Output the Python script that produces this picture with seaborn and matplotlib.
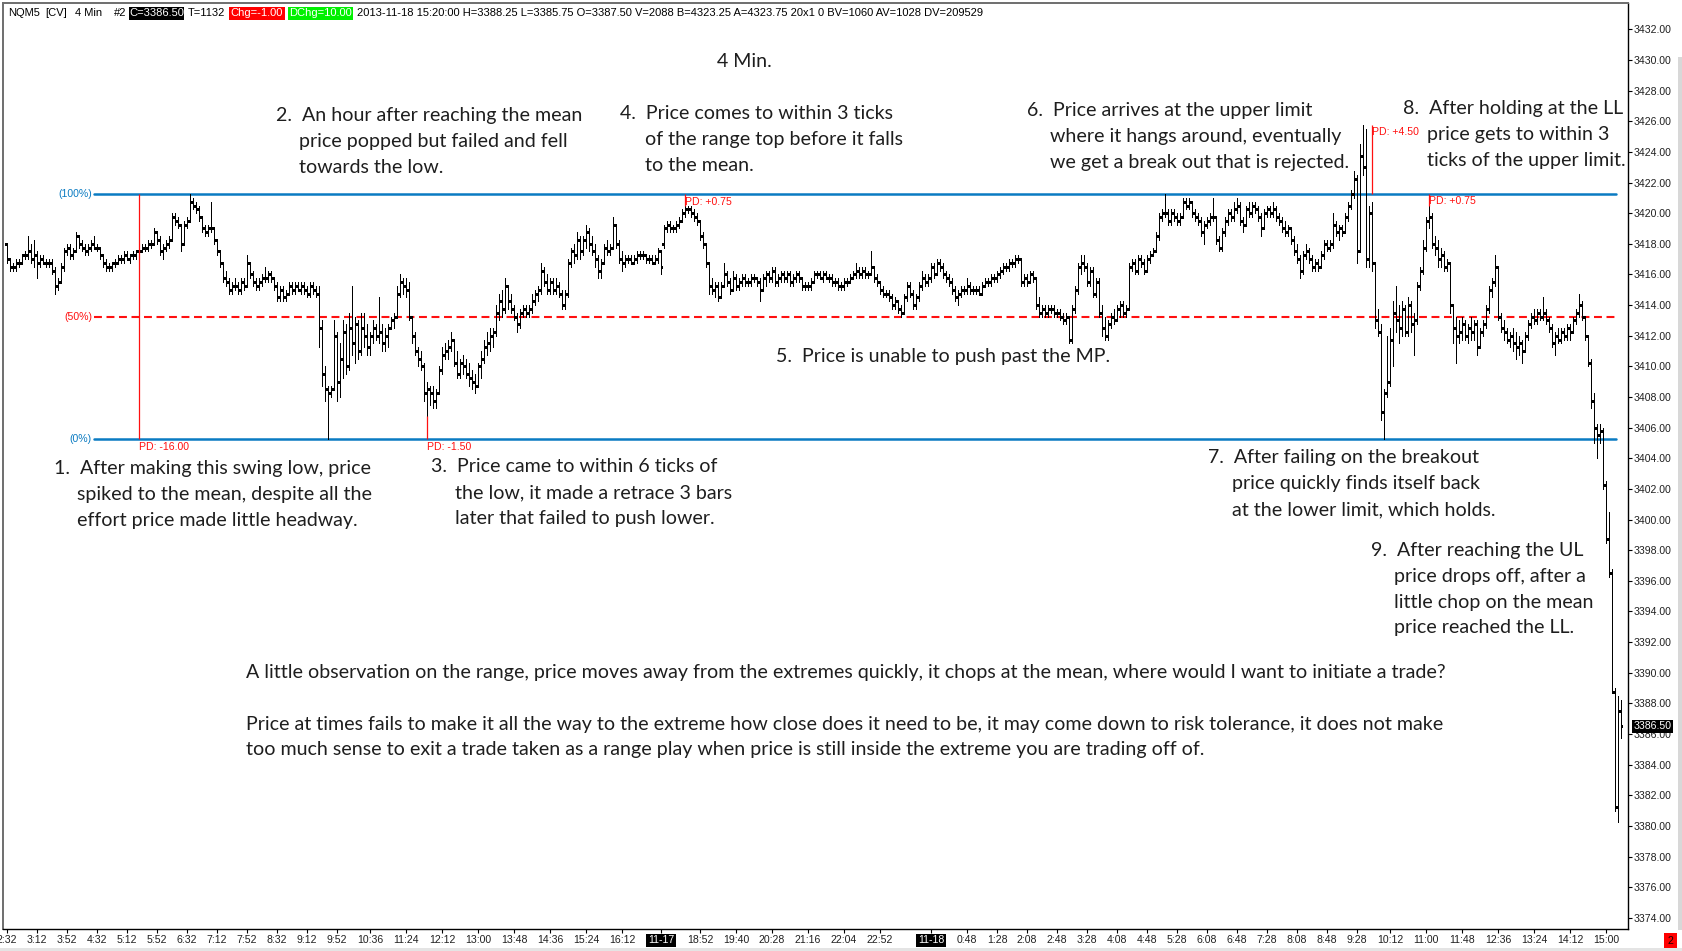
import numpy as np
import pandas as pd
import matplotlib
matplotlib.use("Agg")
import matplotlib.pyplot as plt
from matplotlib.patches import Rectangle
from matplotlib.transforms import blended_transform_factory
import seaborn as sns

# ---------------- data (price offsets from BASE, one 4-minute bar each) ----------------
BASE = 3400.0

OPEN = [
 18.0, 17.0, 16.5, 16.5, 16.75, 16.75, 17.25, 17.25, 17.5, 17.0,
 17.25, 16.75, 17.0, 16.75, 16.75, 16.75, 16.25, 15.25, 15.5, 16.5,
 17.5, 17.75, 17.25, 17.5, 18.5, 18.0, 17.75, 17.5, 17.75, 18.0,
 17.75, 17.75, 17.25, 16.75, 16.5, 16.5, 16.75, 16.75, 17.0, 17.0,
 17.25, 17.0, 17.25, 17.25, 17.5, 17.5, 17.75, 17.75, 18.0, 18.0,
 18.75, 18.25, 17.5, 17.75, 18.0, 18.25, 19.75, 19.5, 19.25, 18.0,
 19.25, 19.5, 20.75, 20.5, 20.25, 19.75, 19.0, 18.75, 19.0, 19.0,
 18.25, 17.5, 16.75, 15.75, 15.5, 15.0, 15.25, 15.25, 15.0, 15.5,
 15.25, 16.75, 16.0, 15.5, 15.25, 15.5, 15.75, 15.75, 16.0, 15.75,
 15.25, 14.5, 15.0, 14.5, 14.75, 15.25, 15.0, 15.25, 15.0, 15.25,
 15.0, 14.75, 15.25, 15.0, 14.75, 12.5, 9.5, 8.5, 8.25, 8.5,
 12.0, 9.0, 10.5, 12.25, 10.0, 12.5, 11.5, 12.75, 11.0, 12.5,
 12.0, 11.25, 12.0, 12.5, 12.0, 12.25, 11.5, 12.0, 12.5, 13.0,
 13.25, 14.75, 15.5, 15.25, 15.0, 13.25, 12.0, 11.0, 10.5, 10.0,
 8.25, 8.5, 8.25, 7.75, 8.25, 9.75, 10.75, 11.0, 11.25, 11.75,
 10.25, 9.5, 10.25, 10.0, 9.5, 9.25, 9.0, 8.75, 10.0, 10.5,
 11.25, 11.5, 12.0, 12.25, 13.5, 14.25, 13.75, 15.25, 14.25, 13.75,
 13.25, 12.75, 13.5, 13.75, 13.5, 13.75, 14.25, 14.75, 15.0, 16.25,
 15.5, 15.0, 15.5, 15.0, 15.25, 14.75, 14.0, 14.75, 16.75, 17.5,
 17.25, 18.25, 17.5, 18.25, 18.75, 18.0, 17.5, 17.0, 16.25, 16.75,
 17.75, 17.5, 17.75, 19.25, 18.0, 17.0, 16.75, 17.0, 17.0, 16.75,
 17.0, 17.25, 17.25, 17.25, 17.0, 17.0, 16.75, 17.0, 17.5, 18.0,
 19.0, 19.25, 19.0, 19.0, 19.25, 19.5, 20.0, 20.25, 20.25, 20.0,
 19.75, 19.5, 18.5, 18.0, 16.75, 15.25, 15.0, 15.25, 14.5, 15.25,
 16.0, 15.5, 15.0, 15.75, 15.25, 15.5, 15.75, 15.5, 15.5, 15.75,
 15.75, 15.5, 15.0, 15.75, 16.0, 15.75, 16.25, 15.5, 15.75, 16.0,
 15.75, 16.0, 15.5, 15.75, 16.0, 15.75, 15.25, 15.25, 15.25, 15.5,
 16.0, 16.0, 15.75, 16.0, 15.75, 15.75, 15.5, 15.5, 15.25, 15.25,
 15.5, 15.5, 15.75, 16.0, 16.25, 16.0, 16.25, 16.0, 16.0, 16.5,
 15.75, 15.5, 15.0, 14.75, 14.75, 14.5, 14.0, 14.25, 13.75, 13.5,
 14.5, 15.25, 14.75, 14.0, 14.5, 15.25, 15.75, 15.5, 15.75, 16.5,
 16.0, 16.75, 16.5, 16.0, 15.75, 15.5, 15.0, 14.5, 14.75, 15.0,
 15.0, 15.25, 15.0, 15.0, 15.0, 14.75, 15.25, 15.5, 15.5, 15.75,
 15.75, 16.0, 16.25, 16.5, 16.5, 16.75, 16.75, 17.0, 17.0, 15.5,
 15.75, 15.5, 16.0, 15.75, 14.0, 13.5, 13.75, 13.5, 13.75, 13.75,
 13.5, 13.5, 13.25, 13.0, 13.25, 11.75, 13.75, 15.0, 16.5, 16.75,
 16.5, 15.5, 16.25, 14.75, 15.5, 13.5, 12.5, 12.0, 12.75, 13.25,
 13.0, 13.75, 14.0, 13.5, 13.75, 16.5, 16.75, 16.25, 17.0, 16.75,
 16.25, 17.0, 17.25, 17.5, 18.5, 19.75, 20.0, 20.0, 19.5, 20.0,
 19.75, 19.5, 19.75, 20.75, 20.5, 20.75, 20.0, 19.75, 19.5, 18.75,
 19.25, 19.5, 19.75, 19.75, 18.25, 17.75, 18.75, 19.5, 20.0, 19.75,
 20.25, 20.5, 19.5, 19.25, 20.25, 20.0, 20.5, 20.25, 19.75, 19.0,
 20.0, 20.25, 20.0, 20.25, 19.75, 19.5, 19.0, 18.75, 19.0, 18.25,
 17.5, 17.0, 16.25, 17.25, 17.5, 17.0, 16.5, 16.75, 16.5, 17.25,
 18.0, 17.75, 18.0, 19.25, 18.75, 19.0, 18.75, 19.75, 20.5, 21.25,
 22.25, 17.5, 23.75, 23.0, 17.0, 20.0, 16.75, 13.0, 12.25, 7.0,
 8.25, 9.0, 11.75, 13.5, 13.0, 12.5, 13.75, 12.25, 14.0, 12.75,
 13.0, 15.25, 16.25, 17.75, 19.5, 19.75, 18.0, 17.75, 17.0, 17.25,
 16.5, 16.75, 14.0, 12.5, 12.0, 12.25, 12.75, 12.0, 12.5, 12.25,
 12.75, 11.25, 12.25, 12.75, 13.75, 15.0, 15.5, 16.5, 13.25, 12.5,
 12.25, 11.75, 12.0, 11.5, 11.25, 11.5, 11.0, 12.0, 12.75, 13.25,
 13.0, 13.5, 13.25, 13.5, 13.0, 12.5, 11.5, 12.0, 11.75, 12.25,
 12.0, 12.5, 12.25, 13.0, 13.5, 14.0, 13.25, 12.0, 10.25, 7.75,
 6.0, 5.5, 5.75, 2.25, -1.25, -3.5, -11.25, -18.75, -12.5,
]

HIGH = [
 18.0, 17.0, 16.75, 17.0, 17.0, 17.25, 17.5, 18.5, 18.0, 18.25,
 17.5, 17.25, 17.25, 17.0, 17.0, 17.0, 16.5, 15.75, 16.75, 17.75,
 18.0, 18.0, 17.75, 18.75, 18.5, 18.25, 18.0, 18.0, 18.25, 18.5,
 18.0, 17.75, 17.25, 17.0, 16.75, 16.75, 17.0, 17.25, 17.25, 17.5,
 17.5, 17.25, 17.5, 17.5, 17.75, 18.0, 18.0, 18.25, 18.25, 19.0,
 18.75, 18.5, 18.0, 18.25, 18.5, 20.0, 20.0, 19.75, 19.25, 19.5,
 19.75, 21.25, 21.0, 20.75, 20.5, 19.75, 19.25, 19.25, 20.75, 19.0,
 18.25, 17.5, 16.75, 16.25, 15.75, 15.5, 15.75, 15.5, 15.75, 15.75,
 17.25, 16.75, 16.25, 15.75, 15.75, 16.0, 16.5, 16.25, 16.25, 15.75,
 15.5, 15.25, 15.25, 15.0, 15.5, 15.5, 15.5, 15.5, 15.5, 15.5,
 15.25, 15.5, 15.5, 15.25, 15.25, 13.0, 10.0, 8.75, 8.75, 13.0,
 12.25, 11.5, 13.0, 12.75, 13.5, 15.25, 13.25, 13.0, 13.5, 13.5,
 12.75, 12.25, 13.0, 12.75, 14.5, 12.75, 12.5, 12.75, 13.25, 13.5,
 15.25, 16.0, 15.75, 15.75, 15.5, 13.25, 12.25, 11.25, 11.0, 10.25,
 9.0, 8.75, 8.75, 8.5, 10.0, 11.25, 11.5, 11.75, 12.25, 11.75,
 11.0, 10.5, 10.75, 10.5, 10.25, 9.75, 9.5, 10.25, 11.0, 11.75,
 12.25, 12.5, 12.5, 14.0, 14.75, 15.0, 15.75, 15.25, 14.75, 14.0,
 13.5, 13.75, 14.0, 14.0, 14.0, 14.75, 15.0, 15.25, 16.75, 16.5,
 16.0, 15.75, 15.75, 15.75, 15.5, 15.0, 15.0, 17.0, 17.75, 18.0,
 18.75, 18.5, 18.5, 19.25, 19.0, 18.5, 18.0, 17.25, 17.0, 18.0,
 18.25, 18.0, 19.75, 19.25, 18.25, 17.5, 17.25, 17.25, 17.25, 17.25,
 17.5, 17.5, 17.5, 17.25, 17.25, 17.25, 17.25, 17.75, 17.5, 19.25,
 19.5, 19.5, 19.25, 19.5, 19.75, 20.25, 20.5, 20.5, 20.5, 20.25,
 20.0, 19.5, 18.75, 18.0, 16.75, 15.75, 15.5, 15.5, 15.5, 16.75,
 16.25, 15.75, 16.25, 16.0, 15.75, 16.0, 16.0, 15.75, 16.0, 16.0,
 15.75, 15.75, 16.0, 16.25, 16.25, 16.5, 16.5, 16.0, 16.25, 16.25,
 16.25, 16.25, 16.0, 16.25, 16.25, 15.75, 15.5, 15.5, 15.75, 16.25,
 16.25, 16.25, 16.25, 16.25, 16.0, 16.0, 15.75, 15.75, 15.5, 15.75,
 15.75, 16.0, 16.25, 16.75, 16.5, 16.5, 16.5, 16.25, 17.5, 16.5,
 16.0, 15.5, 15.25, 15.0, 15.0, 14.75, 14.5, 14.25, 14.0, 14.75,
 15.5, 15.5, 15.0, 14.75, 15.5, 16.25, 16.0, 16.0, 16.75, 16.75,
 17.0, 17.0, 16.75, 16.25, 16.0, 15.75, 15.25, 15.0, 15.25, 15.25,
 15.75, 15.5, 15.25, 15.25, 15.25, 15.5, 15.75, 15.75, 16.0, 16.0,
 16.25, 16.5, 16.75, 16.75, 17.0, 17.0, 17.25, 17.25, 17.0, 16.0,
 16.0, 16.25, 16.25, 15.75, 14.5, 14.0, 14.0, 14.0, 14.0, 14.0,
 13.75, 13.75, 13.5, 13.5, 13.25, 14.0, 15.25, 16.75, 17.25, 17.25,
 16.75, 16.5, 16.5, 15.75, 15.75, 14.0, 13.25, 13.0, 13.5, 13.75,
 14.0, 14.25, 14.25, 14.0, 16.75, 17.0, 17.0, 17.25, 17.25, 17.0,
 17.25, 17.5, 17.75, 18.75, 20.0, 20.25, 21.25, 20.25, 20.25, 20.25,
 20.0, 20.0, 21.0, 21.0, 21.0, 20.75, 20.25, 20.0, 19.75, 19.5,
 19.75, 20.0, 21.0, 19.75, 18.5, 19.0, 19.75, 20.25, 20.25, 20.75,
 21.0, 20.75, 19.75, 20.5, 20.75, 20.75, 20.75, 20.5, 20.0, 20.25,
 20.5, 20.5, 20.75, 20.5, 20.0, 19.75, 19.5, 19.25, 19.0, 18.5,
 18.0, 17.25, 17.5, 18.0, 17.75, 17.25, 17.0, 17.0, 17.5, 18.25,
 18.25, 18.25, 20.0, 19.5, 19.25, 19.25, 20.0, 20.75, 21.5, 22.75,
 22.5, 24.5, 25.75, 25.5, 20.5, 20.75, 16.75, 13.75, 12.75, 8.5,
 12.0, 12.5, 14.25, 15.25, 14.0, 14.25, 14.0, 14.5, 14.25, 13.5,
 15.5, 16.5, 18.25, 19.75, 20.5, 20.0, 18.5, 18.25, 17.75, 17.5,
 17.0, 16.75, 14.0, 13.25, 13.0, 13.25, 13.0, 12.75, 13.25, 13.0,
 13.0, 12.5, 13.0, 14.0, 15.25, 15.75, 17.25, 16.5, 13.5, 13.0,
 12.5, 12.25, 12.5, 12.25, 12.0, 11.75, 12.25, 13.0, 13.5, 13.75,
 13.75, 13.75, 14.5, 13.75, 13.25, 12.75, 12.25, 12.5, 12.5, 12.5,
 12.75, 12.75, 13.25, 13.75, 14.75, 14.25, 13.25, 12.0, 10.5, 8.25,
 6.25, 6.25, 6.0, 2.5, 0.5, -3.25, -11.0, -11.5, -11.75,
]

LOW = [
 16.75, 16.25, 16.25, 16.25, 16.5, 16.75, 17.0, 17.0, 16.75, 16.5,
 15.75, 16.5, 16.75, 16.5, 16.5, 16.0, 14.75, 15.0, 15.5, 16.25,
 17.25, 17.0, 17.0, 17.5, 17.75, 17.5, 17.25, 17.25, 17.5, 17.75,
 17.5, 17.0, 16.5, 16.25, 16.25, 16.25, 16.5, 16.75, 16.75, 16.75,
 17.0, 16.75, 17.0, 17.0, 17.25, 17.5, 17.5, 17.5, 17.75, 18.0,
 18.0, 17.25, 17.0, 17.5, 17.75, 18.25, 19.25, 19.0, 17.5, 18.0,
 19.0, 19.5, 20.25, 20.0, 19.5, 18.75, 18.5, 18.5, 18.75, 18.0,
 17.25, 16.5, 15.5, 15.25, 14.75, 14.75, 15.0, 14.75, 14.75, 15.0,
 15.25, 15.75, 15.25, 15.0, 15.0, 15.25, 15.5, 15.5, 15.5, 15.0,
 14.25, 14.25, 14.25, 14.25, 14.75, 14.75, 14.75, 15.0, 14.75, 14.75,
 14.5, 14.5, 14.75, 14.5, 11.25, 8.75, 7.75, 5.25, 8.0, 8.5,
 7.75, 8.0, 9.25, 9.5, 9.75, 10.75, 10.25, 10.5, 10.75, 11.25,
 10.75, 10.75, 11.5, 11.75, 11.5, 11.0, 11.0, 11.25, 12.5, 12.5,
 13.25, 14.5, 14.75, 14.5, 13.0, 11.5, 10.75, 10.0, 9.75, 7.75,
 6.75, 7.5, 7.25, 7.25, 8.25, 9.5, 10.5, 10.5, 11.0, 10.0,
 9.25, 9.25, 9.5, 9.25, 8.75, 8.5, 8.25, 8.75, 9.25, 10.25,
 10.75, 11.0, 11.25, 12.0, 13.0, 13.25, 13.5, 13.75, 13.5, 13.0,
 12.25, 12.5, 13.25, 13.25, 13.25, 13.5, 14.0, 14.25, 14.75, 15.25,
 14.75, 14.75, 14.75, 14.75, 14.5, 13.75, 13.75, 14.5, 16.5, 16.75,
 17.0, 17.0, 17.25, 17.75, 17.5, 17.25, 16.5, 15.75, 15.75, 16.75,
 17.25, 17.25, 17.75, 17.75, 16.75, 16.25, 16.5, 16.75, 16.75, 16.75,
 16.75, 17.0, 17.0, 16.75, 16.75, 16.75, 16.75, 16.75, 16.0, 17.75,
 18.75, 18.75, 18.75, 18.75, 19.0, 19.5, 19.75, 20.0, 19.75, 19.5,
 19.25, 18.25, 17.75, 16.5, 14.75, 14.75, 14.5, 14.25, 14.5, 15.25,
 15.25, 14.75, 15.0, 15.0, 15.0, 15.25, 15.25, 15.25, 15.25, 15.5,
 15.25, 14.25, 15.0, 15.25, 15.5, 15.5, 15.25, 15.25, 15.5, 15.5,
 15.5, 15.25, 15.25, 15.5, 15.5, 15.0, 15.0, 15.0, 15.0, 15.5,
 15.75, 15.75, 15.5, 15.75, 15.5, 15.25, 15.25, 15.0, 15.0, 15.0,
 15.25, 15.5, 15.75, 15.75, 15.75, 15.75, 15.75, 15.75, 16.0, 15.5,
 15.25, 14.75, 14.5, 14.5, 14.25, 13.75, 13.75, 13.5, 13.25, 13.5,
 14.25, 14.5, 13.75, 13.75, 14.25, 15.0, 15.25, 15.25, 15.5, 15.75,
 16.0, 16.25, 15.75, 15.5, 15.25, 14.75, 14.25, 14.0, 14.5, 14.75,
 14.75, 14.75, 14.75, 14.75, 14.75, 14.75, 15.25, 15.25, 15.25, 15.5,
 15.5, 15.75, 16.0, 16.25, 16.25, 16.5, 16.5, 16.75, 15.25, 15.25,
 15.25, 15.5, 15.5, 13.75, 13.25, 13.25, 13.25, 13.25, 13.5, 13.25,
 13.25, 13.0, 12.75, 12.75, 11.5, 11.5, 13.5, 14.75, 16.0, 16.25,
 15.25, 15.25, 14.5, 14.5, 13.25, 12.0, 11.75, 11.75, 12.5, 12.75,
 13.0, 13.25, 13.25, 13.25, 13.75, 16.25, 16.0, 16.0, 16.5, 16.0,
 16.25, 16.75, 17.25, 17.5, 18.25, 19.5, 19.75, 19.25, 19.25, 19.5,
 19.25, 19.25, 19.75, 20.25, 20.25, 19.75, 19.5, 19.25, 18.5, 18.0,
 19.0, 19.25, 19.5, 18.0, 17.5, 17.5, 18.5, 19.25, 19.5, 19.5,
 20.0, 19.25, 18.75, 19.25, 19.75, 19.75, 20.0, 19.5, 18.5, 19.0,
 19.75, 19.75, 19.75, 19.5, 19.25, 18.75, 18.5, 18.5, 18.0, 17.25,
 16.75, 15.75, 16.0, 17.0, 16.75, 16.25, 16.25, 16.25, 16.5, 17.0,
 17.5, 17.5, 17.75, 18.5, 18.25, 18.5, 18.75, 19.5, 20.25, 21.0,
 16.75, 17.5, 22.5, 16.5, 16.5, 16.25, 12.5, 12.0, 6.5, 5.25,
 8.0, 8.75, 10.0, 12.25, 11.5, 12.0, 12.0, 12.0, 12.25, 10.75,
 12.75, 15.0, 16.0, 17.5, 19.0, 17.75, 17.25, 16.5, 16.5, 16.25,
 16.25, 13.5, 11.5, 10.25, 11.5, 11.75, 11.75, 11.5, 11.75, 11.75,
 10.75, 11.25, 12.0, 12.5, 13.5, 14.5, 15.25, 13.0, 12.25, 11.75,
 11.5, 11.25, 11.0, 10.5, 10.75, 10.25, 11.0, 11.75, 12.5, 12.75,
 12.75, 13.0, 13.0, 12.75, 12.25, 11.25, 10.75, 11.5, 11.5, 11.75,
 11.75, 11.75, 12.25, 12.75, 13.25, 13.0, 11.75, 10.0, 7.25, 5.0,
 4.0, 5.0, 2.0, -1.5, -3.75, -11.25, -19.0, -19.75, -14.25,
]

CLOSE = [
 17.0, 16.5, 16.5, 16.75, 16.75, 17.25, 17.25, 17.5, 17.0, 17.25,
 16.75, 17.0, 16.75, 16.75, 16.75, 16.25, 15.25, 15.5, 16.5, 17.5,
 17.75, 17.25, 17.5, 18.5, 18.0, 17.75, 17.5, 17.75, 18.0, 17.75,
 17.75, 17.25, 16.75, 16.5, 16.5, 16.75, 16.75, 17.0, 17.0, 17.25,
 17.0, 17.25, 17.25, 17.5, 17.5, 17.75, 17.75, 18.0, 18.0, 18.75,
 18.25, 17.5, 17.75, 18.0, 18.25, 19.75, 19.5, 19.25, 18.0, 19.25,
 19.5, 20.75, 20.5, 20.25, 19.75, 19.0, 18.75, 19.0, 19.0, 18.25,
 17.5, 16.75, 15.75, 15.5, 15.0, 15.25, 15.25, 15.0, 15.5, 15.25,
 16.75, 16.0, 15.5, 15.25, 15.5, 15.75, 15.75, 16.0, 15.75, 15.25,
 14.5, 15.0, 14.5, 14.75, 15.25, 15.0, 15.25, 15.0, 15.25, 15.0,
 14.75, 15.25, 15.0, 14.75, 12.5, 9.5, 8.5, 8.25, 8.5, 12.0,
 9.0, 10.5, 12.25, 10.0, 12.5, 11.5, 12.75, 11.0, 12.5, 12.0,
 11.25, 12.0, 12.5, 12.0, 12.25, 11.5, 12.0, 12.5, 13.0, 13.25,
 14.75, 15.5, 15.25, 15.0, 13.25, 12.0, 11.0, 10.5, 10.0, 8.25,
 8.5, 8.25, 7.75, 8.25, 9.75, 10.75, 11.0, 11.25, 11.75, 10.25,
 9.5, 10.25, 10.0, 9.5, 9.25, 9.0, 8.75, 10.0, 10.5, 11.25,
 11.5, 12.0, 12.25, 13.5, 14.25, 13.75, 15.25, 14.25, 13.75, 13.25,
 12.75, 13.5, 13.75, 13.5, 13.75, 14.25, 14.75, 15.0, 16.25, 15.5,
 15.0, 15.5, 15.0, 15.25, 14.75, 14.0, 14.75, 16.75, 17.5, 17.25,
 18.25, 17.5, 18.25, 18.75, 18.0, 17.5, 17.0, 16.25, 16.75, 17.75,
 17.5, 17.75, 19.25, 18.0, 17.0, 16.75, 17.0, 17.0, 16.75, 17.0,
 17.25, 17.25, 17.25, 17.0, 17.0, 16.75, 17.0, 17.5, 16.5, 19.0,
 19.25, 19.0, 19.0, 19.25, 19.5, 20.0, 20.25, 20.25, 20.0, 19.75,
 19.5, 18.5, 18.0, 16.75, 15.25, 15.0, 15.25, 14.5, 15.25, 16.0,
 15.5, 15.0, 15.75, 15.25, 15.5, 15.75, 15.5, 15.5, 15.75, 15.75,
 15.5, 15.0, 15.75, 16.0, 15.75, 16.25, 15.5, 15.75, 16.0, 15.75,
 16.0, 15.5, 15.75, 16.0, 15.75, 15.25, 15.25, 15.25, 15.5, 16.0,
 16.0, 15.75, 16.0, 15.75, 15.75, 15.5, 15.5, 15.25, 15.25, 15.5,
 15.5, 15.75, 16.0, 16.25, 16.0, 16.25, 16.0, 16.0, 16.5, 15.75,
 15.5, 15.0, 14.75, 14.75, 14.5, 14.0, 14.25, 13.75, 13.5, 14.5,
 15.25, 14.75, 14.0, 14.5, 15.25, 15.75, 15.5, 15.75, 16.5, 16.0,
 16.75, 16.5, 16.0, 15.75, 15.5, 15.0, 14.5, 14.75, 15.0, 15.0,
 15.25, 15.0, 15.0, 15.0, 14.75, 15.25, 15.5, 15.5, 15.75, 15.75,
 16.0, 16.25, 16.5, 16.5, 16.75, 16.75, 17.0, 17.0, 15.5, 15.75,
 15.5, 16.0, 15.75, 14.0, 13.5, 13.75, 13.5, 13.75, 13.75, 13.5,
 13.5, 13.25, 13.0, 13.25, 11.75, 13.75, 15.0, 16.5, 16.75, 16.5,
 15.5, 16.25, 14.75, 15.5, 13.5, 12.5, 12.0, 12.75, 13.25, 13.0,
 13.75, 14.0, 13.5, 13.75, 16.5, 16.75, 16.25, 17.0, 16.75, 16.25,
 17.0, 17.25, 17.5, 18.5, 19.75, 20.0, 20.0, 19.5, 20.0, 19.75,
 19.5, 19.75, 20.75, 20.5, 20.75, 20.0, 19.75, 19.5, 18.75, 19.25,
 19.5, 19.75, 19.75, 18.25, 17.75, 18.75, 19.5, 20.0, 19.75, 20.25,
 20.5, 19.5, 19.25, 20.25, 20.0, 20.5, 20.25, 19.75, 19.0, 20.0,
 20.25, 20.0, 20.25, 19.75, 19.5, 19.0, 18.75, 19.0, 18.25, 17.5,
 17.0, 16.25, 17.25, 17.5, 17.0, 16.5, 16.75, 16.5, 17.25, 18.0,
 17.75, 18.0, 19.25, 18.75, 19.0, 18.75, 19.75, 20.5, 21.25, 22.25,
 17.5, 23.75, 23.0, 17.0, 20.0, 16.75, 13.0, 12.25, 7.0, 8.25,
 9.0, 11.75, 13.5, 13.0, 12.5, 13.75, 12.25, 14.0, 12.75, 13.0,
 15.25, 16.25, 17.75, 19.5, 19.75, 18.0, 17.75, 17.0, 17.25, 16.5,
 16.75, 14.0, 12.5, 12.0, 12.25, 12.75, 12.0, 12.5, 12.25, 12.75,
 11.25, 12.25, 12.75, 13.75, 15.0, 15.5, 16.5, 13.25, 12.5, 12.25,
 11.75, 12.0, 11.5, 11.25, 11.5, 11.0, 12.0, 12.75, 13.25, 13.0,
 13.5, 13.25, 13.5, 13.0, 12.5, 11.5, 12.0, 11.75, 12.25, 12.0,
 12.5, 12.25, 13.0, 13.5, 14.0, 13.25, 12.0, 10.25, 7.75, 6.0,
 5.5, 5.75, 2.25, -1.25, -3.5, -11.25, -18.75, -12.5, -13.5,
]

# range levels and price-distance marks
LEVEL_PRICES = [3421.25, 3413.25, 3405.25]
LEVEL_LABELS = ["(100%)", "(50%)", "(0%)"]
PD_BAR = [44, 140, 226, 455, 474]
PD_FROM = [3405.25, 3405.25, 3420.50, 3421.25, 3420.50]
PD_TO = [3421.25, 3406.75, 3421.25, 3425.75, 3421.25]
PD_TEXT = ["PD: -16.00", "PD: -1.50", "PD: +0.75", "PD: +4.50", "PD: +0.75"]
PD_TEXT_Y = [3404.75, 3404.75, 3420.73, 3425.28, 3420.80]

# time axis
TICK_IDX = [0, 10, 20, 30, 40, 50, 60, 70, 80, 90, 100, 110, 121, 133, 145, 157, 169,
            181, 193, 205, 218, 231, 243, 255, 267, 279, 291, 308, 320, 330, 340, 350,
            360, 370, 380, 390, 400, 410, 420, 430, 440, 450, 461, 473, 485, 497, 509,
            521, 533]
TICK_LBL = ["2:32", "3:12", "3:52", "4:32", "5:12", "5:52", "6:32", "7:12", "7:52", "8:32",
            "9:12", "9:52", "10:36", "11:24", "12:12", "13:00", "13:48", "14:36", "15:24",
            "16:12", "11-17", "18:52", "19:40", "20:28", "21:16", "22:04", "22:52", "11-18",
            "0:48", "1:28", "2:08", "2:48", "3:28", "4:08", "4:48", "5:28", "6:08", "6:48",
            "7:28", "8:08", "8:48", "9:28", "10:12", "11:00", "11:48", "12:36", "13:24",
            "14:12", "15:00"]
Y_TICKS = list(range(3374, 3433, 2))
LAST_PRICE = 3386.50

HEADER_PLAIN = [("NQM5", 8), ("[CV]", 45), ("4 Min", 75), ("#2", 114), ("T=1132", 188)]
HEADER_BOXES = [("C=3386.50", 129, 184, "black", "white"),
                ("Chg=-1.00", 229, 285, "#FF0000", "white"),
                ("DChg=10.00", 288, 353, "#00F000", "white")]
HEADER_TAIL = ("2013-11-18 15:20:00 H=3388.25 L=3385.75 O=3387.50 V=2088 B=4323.25 "
               "A=4323.75 20x1 0 BV=1060 AV=1028 DV=209529")

TITLE = "4 Min."
NOTES = [
    (53.6, 77.2, 468.8, ["1.  After making this swing low, price",
                         "spiked to the mean, despite all the",
                         "effort price made little headway."]),
    (275.7, 299.3, 115.9, ["2.  An hour after reaching the mean",
                           "price popped but failed and fell",
                           "towards the low."]),
    (431.2, 454.8, 466.6, ["3.  Price came to within 6 ticks of",
                           "the low, it made a retrace 3 bars",
                           "later that failed to push lower."]),
    (620.0, 644.7, 113.7, ["4.  Price comes to within 3 ticks",
                           "of the range top before it falls",
                           "to the mean."]),
    (775.6, 775.6, 356.1, ["5.  Price is unable to push past the MP."]),
    (1026.6, 1050.2, 110.5, ["6.  Price arrives at the upper limit",
                             "where it hangs around, eventually",
                             "we get a break out that is rejected."]),
    (1207.9, 1231.5, 458.0, ["7.  After failing on the breakout",
                             "price quickly finds itself back",
                             "at the lower limit, which holds."]),
    (1403.0, 1426.7, 108.3, ["8.  After holding at the LL",
                             "price gets to within 3",
                             "ticks of the upper limit."]),
    (1371.0, 1394.5, 550.3, ["9.  After reaching the UL",
                             "price drops off, after a",
                             "little chop on the mean",
                             "price reached the LL."]),
]
PARAGRAPH = [
    (672.6, "A little observation on the range, price moves away from the extremes quickly, it chops at the mean, where would I want to initiate a trade?"),
    (724.1, "Price at times fails to make it all the way to the extreme how close does it need to be, it may come down to risk tolerance, it does not make"),
    (749.8, "too much sense to exit a trade taken as a range play when price is still inside the extreme you are trading off of."),
]

# ---------------- figure ----------------
W, H = 1682, 951
sns.set_style("white")
plt.rcParams['font.family'] = ['Liberation Sans', 'DejaVu Sans']

BLUE = "#0A7BC2"
RED = "#FF1010"
TXT = "#1E1E1E"
ANN_FONT = ['Lato', 'DejaVu Sans']

fig = plt.figure(figsize=(W / 100, H / 100), dpi=100)
fig.patch.set_facecolor("white")


def fx(px):
    return px / W


def fy(py):
    return 1 - py / H


ax = fig.add_axes([fx(3), (H - 929) / H, (1628 - 3) / W, (929 - 3) / H])
ax.set_facecolor("white")

df = pd.DataFrame({
    "idx": np.arange(len(CLOSE)),
    "open": BASE + np.array(OPEN),
    "high": BASE + np.array(HIGH),
    "low": BASE + np.array(LOW),
    "close": BASE + np.array(CLOSE),
})

# OHLC bars (thin, crisp, like the trading platform)
ax.vlines(df["idx"], df["low"], df["high"], color="black", lw=0.72, antialiased=False, zorder=3)
ax.hlines(df["open"], df["idx"] - 0.5, df["idx"], color="black", lw=1.0, antialiased=False, zorder=3)
ax.hlines(df["close"], df["idx"], df["idx"] + 0.5, color="black", lw=1.0, antialiased=False, zorder=3)

# range levels (seaborn line plots)
x0_lvl, x1_lvl = (94 - 7) / 3, (1616 - 7) / 3
for price, lab in zip(LEVEL_PRICES, LEVEL_LABELS):
    is_mid = lab == "(50%)"
    col = RED if is_mid else BLUE
    lvl = pd.DataFrame({"x": [x0_lvl, x1_lvl], "y": [price, price]})
    sns.lineplot(data=lvl, x="x", y="y", ax=ax, color=col,
                 lw=1.5 if is_mid else 1.8,
                 linestyle=(0, (3.8, 2.2)) if is_mid else "-", zorder=2)
    ax.text((92 - 7) / 3, price, lab, ha="right", va="center", fontsize=7.6,
            color=col, zorder=4)

# price distance marks
for b, p0, p1, t, ty in zip(PD_BAR, PD_FROM, PD_TO, PD_TEXT, PD_TEXT_Y):
    ax.vlines([b], p0, p1, color=RED, lw=0.9, zorder=4)
    ax.text(b + 0.1, ty, t, ha="left", va="center", fontsize=7.6, color=RED, zorder=5)

ax.set_xlim((3 - 7) / 3, (1628 - 7) / 3)
ax.set_ylim(3373.27, 3433.72)
ax.set_xlabel("")
ax.set_ylabel("")

# y axis on the right
ax.yaxis.tick_right()
ax.set_yticks(Y_TICKS)
ax.set_yticklabels([f"{v:.2f}" for v in Y_TICKS])
ax.tick_params(axis="y", direction="out", length=3, width=0.8, pad=1.2,
               labelsize=7.6, colors="black", labelcolor="#202020", right=True, left=False)
ax.set_xticks(TICK_IDX)
ax.set_xticklabels(TICK_LBL)
ax.tick_params(axis="x", direction="out", length=3, width=0.8, pad=1.5,
               labelsize=7.6, colors="black", labelcolor="#202020", bottom=True)
for t in ax.get_xticklabels():
    if "-" in t.get_text():
        t.set_color("white")
        t.set_bbox(dict(facecolor="black", edgecolor="none", pad=1.2))

for side in ["left", "top"]:
    ax.spines[side].set_color("#6E6E6E")
    ax.spines[side].set_linewidth(1.4)
for side in ["right", "bottom"]:
    ax.spines[side].set_color("black")
    ax.spines[side].set_linewidth(1.0)

# last price marker on the axis
btf = blended_transform_factory(ax.transAxes, ax.transData)
ax.text(1 + 5.5 / 1625, LAST_PRICE, f"{LAST_PRICE:.2f}", transform=btf, ha="left",
        va="center", fontsize=7.6, color="white", zorder=10, clip_on=False,
        bbox=dict(facecolor="black", edgecolor="none", pad=1.0))

# ---------------- text ----------------
renderer = fig.canvas.get_renderer()


def fit_size(s, target_px, family, probe=20.0):
    t = fig.text(0, 0, s, fontsize=probe, family=family)
    w = t.get_window_extent(renderer).width
    t.remove()
    return probe * target_px / w


ann_size = fit_size(PARAGRAPH[1][1], 1201.0, ANN_FONT)
hdr_size = fit_size(HEADER_TAIL, 630.0, ['Liberation Sans', 'DejaVu Sans'])

fig.text(fx(744.5), fy(61.1), TITLE, ha="center", va="center", fontsize=ann_size,
         family=ANN_FONT, color=TXT)
LINE_GAP = 25.9
for xf, xc, y0, lines in NOTES:
    for k, s in enumerate(lines):
        fig.text(fx(xf if k == 0 else xc), fy(y0 + k * LINE_GAP), s, ha="left", va="center",
                 fontsize=ann_size, family=ANN_FONT, color=TXT)
for y, s in PARAGRAPH:
    fig.text(fx(245.6), fy(y), s, ha="left", va="center", fontsize=ann_size,
             family=ANN_FONT, color=TXT)

# header line
HY = 13.0
for s, xp in HEADER_PLAIN:
    fig.text(fx(xp), fy(HY), s, ha="left", va="center", fontsize=hdr_size, color="black")
for s, a, b, bg, fg in HEADER_BOXES:
    fig.patches.append(Rectangle((fx(a), fy(19.5)), (b - a) / W, 12.5 / H,
                                 transform=fig.transFigure, facecolor=bg, edgecolor="none", zorder=5))
    fig.text(fx((a + b) / 2), fy(HY), s, ha="center", va="center", fontsize=hdr_size,
             color=fg, zorder=6)
fig.text(fx(357), fy(HY), HEADER_TAIL, ha="left", va="center", fontsize=hdr_size, color="black")

# window decorations: scrollbar strips and status box
fig.patches.append(Rectangle((fx(1677.5), fy(930)), 4.5 / W, (930 - 57) / H,
                             transform=fig.transFigure, facecolor="#D8D8D8", edgecolor="none"))
fig.patches.append(Rectangle((0, 0), 1, 3 / H, transform=fig.transFigure,
                             facecolor="#E4E4E4", edgecolor="none"))
fig.patches.append(Rectangle((fx(1664), fy(948)), 13 / W, 15 / H, transform=fig.transFigure,
                             facecolor="#FF0000", edgecolor="none", zorder=5))
fig.text(fx(1670.5), fy(940.5), "2", ha="center", va="center", fontsize=7.6, color="#1A0000",
         zorder=6)

fig.savefig("out.png", dpi=100)
